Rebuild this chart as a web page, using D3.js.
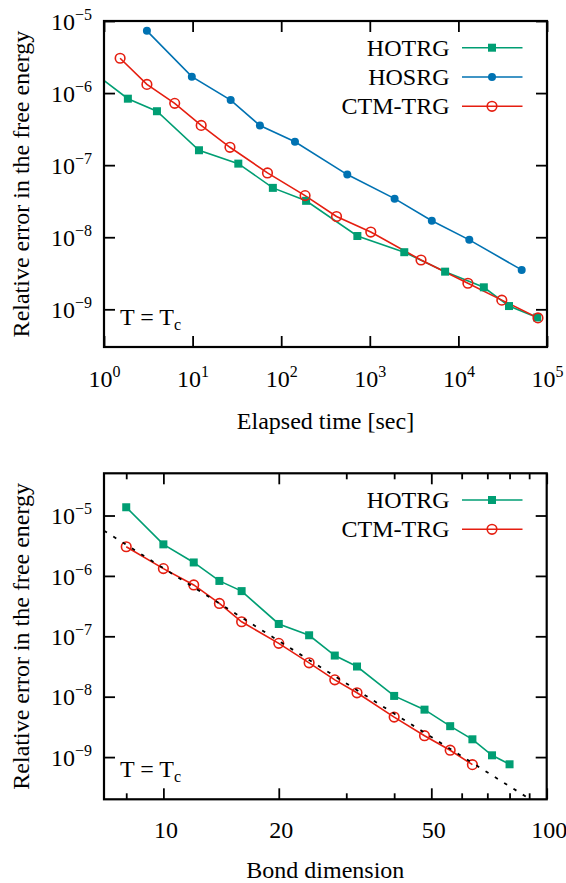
<!DOCTYPE html>
<html>
<head>
<meta charset="utf-8">
<script src="https://cdn.jsdelivr.net/npm/d3@7"></script>
<style>
  html, body { margin: 0; padding: 0; background: #fff; }
  svg { display: block; }
  text { font-family: "Liberation Serif", "Times New Roman", serif; fill: #000; }
</style>
</head>
<body>
<svg id="chart" width="566" height="883"></svg>
<script>
// ---------- Top panel data: error vs elapsed time ----------
const topHotrgTime = [0.9, 1.86, 3.96, 11.8, 32.8, 80.5, 191, 724, 2450, 7080, 19360, 37250, 77500];
const topHotrgErr  = [1.65e-6, 8.36e-7, 5.6e-7, 1.61e-7, 1.05e-7, 4.84e-8, 3.2e-8, 1.04e-8, 6.2e-9, 3.33e-9, 2.02e-9, 1.11e-9, 7.7e-10];
const topHosrgTime = [3.05, 9.8, 26.9, 57.5, 143, 557, 1905, 5010, 13270, 51800];
const topHosrgErr  = [7.3e-6, 1.69e-6, 8.0e-7, 3.55e-7, 2.11e-7, 7.4e-8, 3.43e-8, 1.69e-8, 9.2e-9, 3.52e-9];
const topCtmTime   = [1.52, 3.05, 6.28, 12.5, 26.4, 70, 186, 421, 1026, 3785, 12800, 30900, 79100];
const topCtmErr    = [3.04e-6, 1.32e-6, 7.2e-7, 3.56e-7, 1.77e-7, 7.8e-8, 3.78e-8, 1.94e-8, 1.18e-8, 4.83e-9, 2.3e-9, 1.34e-9, 7.6e-10];

// ---------- Bottom panel data: error vs bond dimension ----------
const botHotrgBond = [8, 10, 12, 14, 16, 20, 24, 28, 32, 40, 48, 56, 64, 72, 80];
const botHotrgErr  = [1.37e-5, 3.33e-6, 1.67e-6, 8.26e-7, 5.6e-7, 1.6e-7, 1.04e-7, 4.8e-8, 3.16e-8, 1.03e-8, 6.1e-9, 3.25e-9, 1.97e-9, 1.07e-9, 7.6e-10];
const botCtmBond   = [8, 10, 12, 14, 16, 20, 24, 28, 32, 40, 48, 56, 64];
const botCtmErr    = [3.04e-6, 1.32e-6, 7.08e-7, 3.5e-7, 1.74e-7, 7.64e-8, 3.64e-8, 1.9e-8, 1.16e-8, 4.6e-9, 2.26e-9, 1.3e-9, 7.5e-10];
const fitBond      = [7, 90];
const fitErr       = [5.6e-6, 2.05e-10];

// ---------- Ticks / labels ----------
const topXTicks   = [1, 10, 100, 1e3, 1e4, 1e5];
const topXExp     = ["0", "1", "2", "3", "4", "5"];
const yTicks      = [1e-5, 1e-6, 1e-7, 1e-8, 1e-9];
const yExp        = ["\u22125", "\u22126", "\u22127", "\u22128", "\u22129"];
const botXMajor   = [10, 20, 50, 100];
const botXLabels  = ["10", "20", "50", "100"];
const botXMinor   = [8, 30, 40, 60, 70, 80, 90];

const seriesNames = ["HOTRG", "HOSRG", "CTM-TRG"];
const colors = { HOTRG: "#009e73", HOSRG: "#0072b2", "CTM-TRG": "#e51e10" };

const svg = d3.select("#chart");

function zip(xs, ys) { return xs.map((x, i) => ({ x: x, y: ys[i] })); }

function drawMarker(g, type, cx, cy) {
  if (type === "HOTRG") {
    g.append("rect").attr("x", cx - 4).attr("y", cy - 4).attr("width", 8).attr("height", 8)
      .attr("fill", colors.HOTRG);
  } else if (type === "HOSRG") {
    g.append("circle").attr("cx", cx).attr("cy", cy).attr("r", 4).attr("fill", colors.HOSRG);
  } else {
    g.append("circle").attr("cx", cx).attr("cy", cy).attr("r", 4.8)
      .attr("fill", "none").attr("stroke", colors["CTM-TRG"]).attr("stroke-width", 1.6);
  }
}

function powLabel(textSel, base, exps) {
  textSel.each(function(d, i) {
    const t = d3.select(this);
    t.text(null);
    t.append("tspan").text(base);
    t.append("tspan").attr("dy", -10).attr("font-size", 16).text(exps[i]);
  });
}

function panel(cfg) {
  const x = cfg.x, y = cfg.y;
  const [x0, x1] = x.range();
  const [yb, yt] = y.range();
  const g = svg.append("g");
  const clipId = "clip" + cfg.id;
  svg.append("clipPath").attr("id", clipId).append("rect")
    .attr("x", x0).attr("y", yt).attr("width", x1 - x0).attr("height", yb - yt);

  const line = d3.line().x(d => x(d.x)).y(d => y(d.y));
  const data = g.append("g").attr("clip-path", `url(#${clipId})`);
  cfg.series.forEach(s => {
    data.append("path").datum(s.pts).attr("d", line).attr("fill", "none")
      .attr("stroke", colors[s.name]).attr("stroke-width", 1.6);
  });
  cfg.series.forEach(s => {
    s.pts.forEach(p => {
      if (p.x >= x.domain()[0] && p.x <= x.domain()[1] * 1.0001) drawMarker(data, s.name, x(p.x), y(p.y));
    });
  });
  if (cfg.fit) {
    data.append("path").datum(cfg.fit).attr("d", line).attr("fill", "none")
      .attr("stroke", "#000").attr("stroke-width", 1.8).attr("stroke-dasharray", "3.5,7.5");
  }

  // axes
  const axB = g.append("g").attr("transform", `translate(0,${yb})`)
    .call(d3.axisBottom(x).tickValues(cfg.xMajor).tickSizeInner(-11).tickSizeOuter(0).tickPadding(0).tickFormat((d, i) => cfg.xLabels ? cfg.xLabels[i] : "10"));
  axB.selectAll("text").attr("y", cfg.xLabelDy).attr("dy", 0).attr("dx", cfg.xLabelDx || 0).attr("font-size", 24);
  if (cfg.xExp) powLabel(axB.selectAll(".tick text"), "10", cfg.xExp);
  g.append("g").attr("transform", `translate(0,${yt})`)
    .call(d3.axisTop(x).tickValues(cfg.xMajor).tickSizeInner(-11).tickSizeOuter(0).tickFormat(""));
  if (cfg.xMinor) {
    g.append("g").attr("transform", `translate(0,${yb})`)
      .call(d3.axisBottom(x).tickValues(cfg.xMinor).tickSizeInner(-6).tickSizeOuter(0).tickFormat(""));
    g.append("g").attr("transform", `translate(0,${yt})`)
      .call(d3.axisTop(x).tickValues(cfg.xMinor).tickSizeInner(-6).tickSizeOuter(0).tickFormat(""));
  }
  const axL = g.append("g").attr("transform", `translate(${x0},0)`)
    .call(d3.axisLeft(y).tickValues(yTicks).tickSizeInner(-11).tickSizeOuter(0).tickPadding(12).tickFormat(() => "10"));
  axL.selectAll("text").attr("font-size", 24).attr("dy", "0.34em");
  powLabel(axL.selectAll(".tick text"), "10", yExp);
  g.append("g").attr("transform", `translate(${x1},0)`)
    .call(d3.axisRight(y).tickValues(yTicks).tickSizeInner(-11).tickSizeOuter(0).tickFormat(""));
  g.selectAll(".domain").remove();
  g.selectAll(".tick line").attr("stroke", "#000").attr("stroke-width", 1.8);
  g.selectAll(".tick text").attr("font-family", null);

  // frame
  g.append("rect").attr("x", x0).attr("y", yt).attr("width", x1 - x0).attr("height", yb - yt)
    .attr("fill", "none").attr("stroke", "#000").attr("stroke-width", 2.2);

  // axis titles
  g.append("text").attr("x", (x0 + x1) / 2).attr("y", cfg.xTitleY).attr("text-anchor", "middle")
    .attr("font-size", 24).text(cfg.xTitle);
  g.append("text").attr("transform", `translate(29,${(yt + yb) / 2}) rotate(-90)`)
    .attr("text-anchor", "middle").attr("font-size", 24).text("Relative error in the free energy");

  // T = Tc
  const tc = g.append("text").attr("x", 120).attr("y", yb - 22).attr("font-size", 24);
  tc.append("tspan").text("T = T");
  tc.append("tspan").attr("dy", 5).attr("font-size", 16).text("c");

  // legend
  cfg.series.forEach((s, i) => {
    const ly = cfg.legendY + i * 29.3;
    g.append("text").attr("x", 449.5).attr("y", ly + 8).attr("text-anchor", "end")
      .attr("font-size", 24).text(s.name);
    g.append("line").attr("x1", 462).attr("x2", 522.5).attr("y1", ly).attr("y2", ly)
      .attr("stroke", colors[s.name]).attr("stroke-width", 1.6);
    drawMarker(g, s.name, 492, ly);
  });
}

panel({
  id: "top",
  x: d3.scaleLog().domain([1, 1e5]).range([104, 547]),
  y: d3.scaleLog().domain([3e-10, 1e-5]).range([347, 21]),
  xMajor: topXTicks, xExp: topXExp, xLabelDy: 40,
  xTitle: "Elapsed time [sec]", xTitleY: 429,
  legendY: 47.7,
  series: [
    { name: seriesNames[0], pts: zip(topHotrgTime, topHotrgErr) },
    { name: seriesNames[1], pts: zip(topHosrgTime, topHosrgErr) },
    { name: seriesNames[2], pts: zip(topCtmTime, topCtmErr) }
  ]
});

panel({
  id: "bot",
  x: d3.scaleLog().domain([7, 100]).range([104, 546.7]),
  y: d3.scaleLog().domain([2e-10, 5e-5]).range([799.3, 473.3]),
  xMajor: botXMajor, xLabels: botXLabels, xMinor: botXMinor, xLabelDy: 38.7, xLabelDx: 2,
  xTitle: "Bond dimension", xTitleY: 878,
  legendY: 500,
  fit: zip(fitBond, fitErr),
  series: [
    { name: seriesNames[0], pts: zip(botHotrgBond, botHotrgErr) },
    { name: seriesNames[2], pts: zip(botCtmBond, botCtmErr) }
  ]
});
</script>
</body>
</html>
